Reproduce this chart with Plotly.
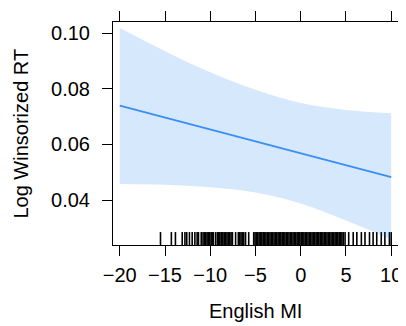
import plotly.graph_objects as go

# Effect of English MI on log winsorized RT
x_pts = [-20, -15, -10, -5, 0, 5, 10]
fit = [0.0740, 0.0697, 0.0654, 0.0611, 0.0568, 0.0525, 0.0482]
upper = [0.1019, 0.0936, 0.0860, 0.0797, 0.0749, 0.0724, 0.0712]
lower = [0.0458, 0.0455, 0.0446, 0.0427, 0.0387, 0.0326, 0.0258]

# observed English MI values (rug)
rug = [-15.5, -14.3, -13.85, -13.1, -12.8, -12.6, -12.3, -12.0, -11.7, -11.45,
       -11.3, -11.0,
       -10.8, -10.65, -10.5, -10.35, -10.2, -10.05, -9.9, -9.75, -9.65,
       -9.4, -9.2, -9.1, -8.95, -8.8, -8.7, -8.6, -8.45, -8.3, -8.15, -8.0,
       -7.85, -7.7, -7.55, -7.2, -6.9, -6.75, -6.6, -6.45, -6.3, -6.1, -5.75,
       -5.2, -5.05, -4.9, -4.75, -4.6, -4.45, -4.3, -4.15, -4.0, -3.85, -3.7,
       -3.55, -3.4, -3.25, -3.1, -2.95, -2.8, -2.65, -2.5, -2.35, -2.2, -2.05,
       -1.9, -1.75, -1.6, -1.45, -1.3, -1.15, -1.0, -0.85, -0.7, -0.55, -0.4,
       -0.25, -0.1, 0.05, 0.2, 0.35, 0.5, 0.65, 0.8, 0.95, 1.1, 1.25, 1.4,
       1.55, 1.7, 1.85, 2.0, 2.15, 2.3, 2.45, 2.6, 2.75, 2.9, 3.05, 3.2, 3.35,
       3.5, 3.65, 3.8, 3.95, 4.1, 4.25, 4.4, 4.55, 4.7,
       4.9, 5.3, 5.8, 6.2, 6.7, 7.1, 7.6, 8.0, 8.4, 8.9, 9.3, 9.8, 10.0]

x_ticks = [-20, -15, -10, -5, 0, 5, 10]
y_ticks = [0.04, 0.06, 0.08, 0.10]
y_ticktext = ["0.04", "0.06", "0.08", "0.10"]

FONT = "Liberation Sans, Arial, Helvetica, sans-serif"

fig = go.Figure()
fig.add_trace(go.Scatter(
    x=x_pts, y=lower, mode="lines", line=dict(width=0, shape="spline"),
    hoverinfo="skip", showlegend=False))
fig.add_trace(go.Scatter(
    x=x_pts, y=upper, mode="lines", line=dict(width=0, shape="spline"),
    fill="tonexty", fillcolor="rgba(0,110,230,0.16)",
    hoverinfo="skip", showlegend=False))
fig.add_trace(go.Scatter(
    x=x_pts, y=fit, mode="lines",
    line=dict(color="#3a8ef5", width=1.8), showlegend=False))

shapes = [dict(type="line", xref="x", yref="y domain", x0=v, x1=v, y0=0, y1=0.058,
               line=dict(color="black", width=1.6), layer="below") for v in rug]

axis_common = dict(showline=True, linecolor="black", linewidth=1, mirror="allticks",
                   ticks="outside", ticklen=10, tickwidth=1, tickcolor="black",
                   showgrid=False, zeroline=False, automargin=False,
                   tickfont=dict(family=FONT, size=20, color="black"))

fig.update_layout(
    width=398, height=318,
    margin=dict(l=105, r=8, t=14, b=81),
    plot_bgcolor="white", paper_bgcolor="white",
    font=dict(family=FONT, size=20, color="black"),
    shapes=shapes,
    xaxis=dict(range=[-20.75, 10.75], tickvals=x_ticks, ticklabelstandoff=2,
               **axis_common),
    yaxis=dict(range=[0.0238, 0.1041], tickvals=y_ticks, ticktext=y_ticktext,
               ticklabelstandoff=8, **axis_common),
    annotations=[
        dict(text="English MI", xref="paper", yref="paper", x=0.5, y=-0.296,
             xanchor="center", yanchor="middle", showarrow=False,
             font=dict(family=FONT, size=20, color="black")),
        dict(text="Log Winsorized RT", xref="paper", yref="paper", x=-0.326, y=0.5,
             xanchor="center", yanchor="middle", textangle=-90, showarrow=False,
             font=dict(family=FONT, size=20, color="black")),
    ],
)

fig.write_html("out.html")
